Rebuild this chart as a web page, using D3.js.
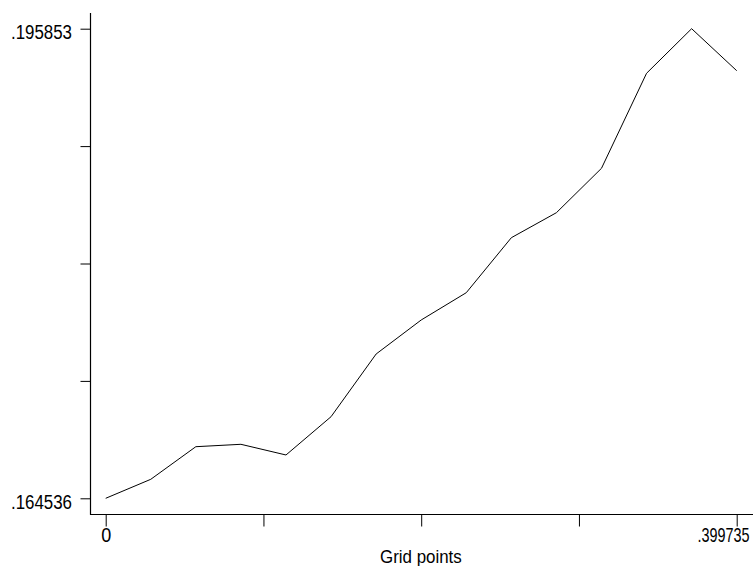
<!DOCTYPE html>
<html>
<head>
<meta charset="utf-8">
<script src="https://cdn.jsdelivr.net/npm/d3@7"></script>
<style>
html,body{margin:0;padding:0;background:#fff;}
svg{display:block;}
text{font-family:"Liberation Sans",Arial,Helvetica,sans-serif;fill:#000;}
</style>
</head>
<body>
<svg id="chart" width="753" height="566"></svg>
<script>
const gridPoints = [0, .028553, .057105, .085658, .114210, .142763, .171315, .199868, .228420, .256973, .285525, .314078, .342630, .371183, .399735];
const values = [.164536, .165803, .167977, .168137, .167424, .169978, .174159, .176427, .178247, .181915, .183583, .186543, .192879, .195853, .193053];
const yTickLabels = [".164536", "", "", "", ".195853"];
const xTickLabels = ["0", "", "", "", ".399735"];
const xTitle = "Grid points";

const svg = d3.select("#chart");
const yMin = d3.min(values), yMax = d3.max(values);
const xMin = d3.min(gridPoints), xMax = d3.max(gridPoints);

const x = d3.scaleLinear().domain([xMin, xMax]).range([105.7, 736.7]);
const y = d3.scaleLinear().domain([yMin, yMax]).range([498.3, 28.7]);

const yTicks = d3.range(5).map(i => yMin + (yMax - yMin) * i / 4);
const xTicks = d3.range(5).map(i => xMin + (xMax - xMin) * i / 4);

// axis lines
svg.append("line").attr("x1", 90.5).attr("x2", 90.5).attr("y1", 13).attr("y2", 514.8)
  .attr("stroke", "#000").attr("stroke-width", 1.2);
svg.append("line").attr("x1", 90).attr("x2", 753).attr("y1", 514.5).attr("y2", 514.5)
  .attr("stroke", "#000").attr("stroke-width", 1.2);

// y axis
const yAxis = svg.append("g").attr("transform", "translate(90.5,0)")
  .call(d3.axisLeft(y).tickValues(yTicks).tickSize(10).tickPadding(8)
    .tickFormat((d, i) => yTickLabels[i]));
yAxis.select(".domain").remove();
yAxis.selectAll(".tick line").attr("stroke", "#000").attr("stroke-width", 1);
yAxis.selectAll(".tick text")
  .attr("font-family", "Liberation Sans, Arial, sans-serif")
  .attr("font-size", 20).attr("dy", "0.5em")
  .attr("text-anchor", "start").attr("x", -79.5)
  .each(function(d, i) { if (yTickLabels[i]) d3.select(this).attr("textLength", 61).attr("lengthAdjust", "spacingAndGlyphs"); });

// x axis
const xAxis = svg.append("g").attr("transform", "translate(0,514.5)")
  .call(d3.axisBottom(x).tickValues(xTicks).tickSize(12).tickPadding(12)
    .tickFormat((d, i) => xTickLabels[i]));
xAxis.select(".domain").remove();
xAxis.selectAll(".tick line").attr("stroke", "#000").attr("stroke-width", 1);
xAxis.selectAll(".tick text")
  .attr("font-family", "Liberation Sans, Arial, sans-serif")
  .attr("font-size", 20).attr("y", 13.5).attr("dy", "0.71em")
  .each(function(d, i) {
    const t = d3.select(this);
    if (i === 0) t.attr("text-anchor", "start").attr("x", 0).attr("transform", "translate(-5,0) scale(0.9,1)");
    if (i === xTicks.length - 1) {
      t.attr("text-anchor", "start").attr("x", 0).attr("transform", "translate(-39.7,0) scale(0.72,1)");
    }
  });

// title
svg.append("text").attr("x", 0).attr("y", 0)
  .attr("transform", "translate(380,562.7) scale(0.94,1)")
  .attr("font-size", 18)
  .text(xTitle);

// line
const line = d3.line().x((d, i) => x(gridPoints[i])).y(d => y(d));
svg.append("path").datum(values)
  .attr("d", line).attr("fill", "none").attr("stroke", "#000").attr("stroke-width", 1)
  .attr("stroke-linejoin", "miter");
</script>
</body>
</html>
